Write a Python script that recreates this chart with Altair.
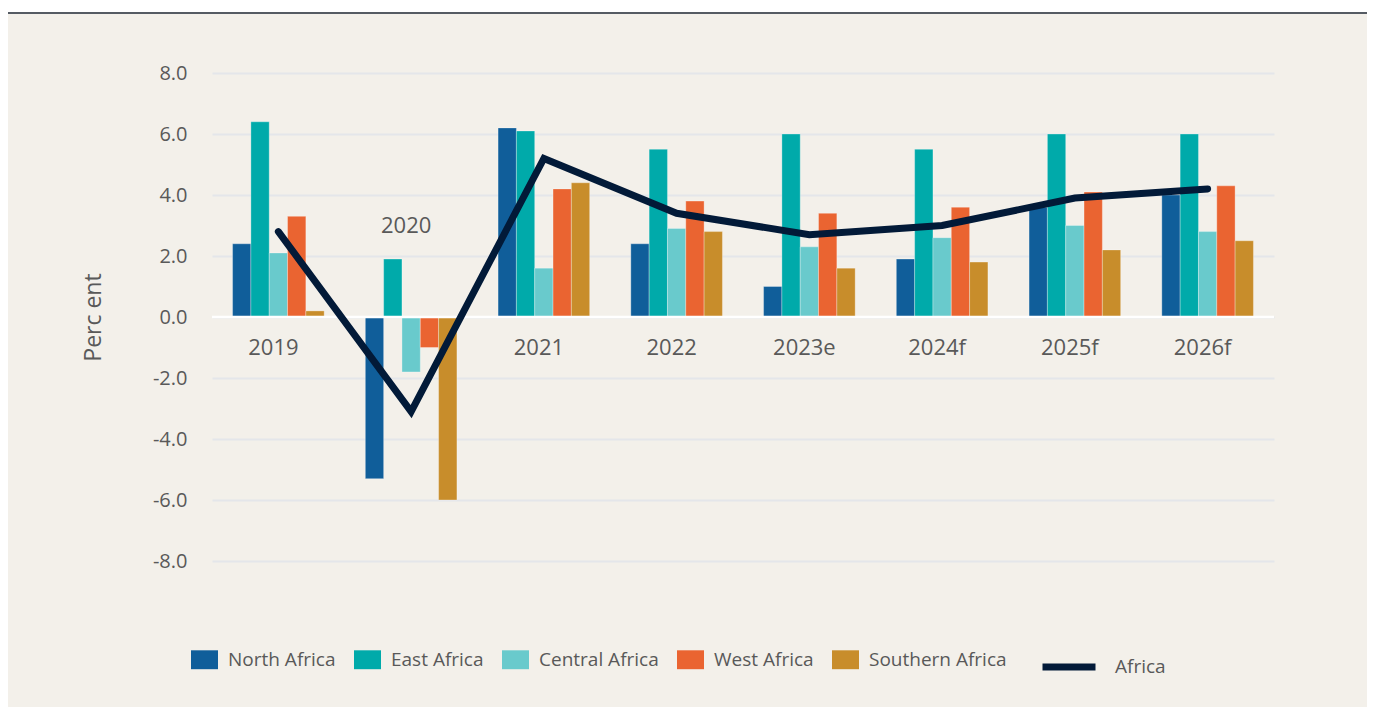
import altair as alt
import pandas as pd

years = ["2019", "2020", "2021", "2022", "2023e", "2024f", "2025f", "2026f"]
regions = ["North Africa", "East Africa", "Central Africa", "West Africa", "Southern Africa"]
north = [2.4, -5.3, 6.2, 2.4, 1.0, 1.9, 3.6, 4.0]
east = [6.4, 1.9, 6.1, 5.5, 6.0, 5.5, 6.0, 6.0]
central = [2.1, -1.8, 1.6, 2.9, 2.3, 2.6, 3.0, 2.8]
west = [3.3, -1.0, 4.2, 3.8, 3.4, 3.6, 4.1, 4.3]
southern = [0.2, -6.0, 4.4, 2.8, 1.6, 1.8, 2.2, 2.5]
africa = [2.8, -3.1, 5.2, 3.4, 2.7, 3.0, 3.9, 4.2]
colors = ["#105E9A", "#00AAAA", "#69CACC", "#EA6431", "#C88D2B"]
y_ticks = [-8, -6, -4, -2, 0, 2, 4, 6, 8]

series = [north, east, central, west, southern]
rows = []
for r, vals in zip(regions, series):
    for y, v in zip(years, vals):
        rows.append({"year": y, "region": r, "value": v})
bars_df = pd.DataFrame(rows)
line_df = pd.DataFrame({"year": years, "value": africa, "name": ["Africa"] * len(years)})
lab_df = pd.DataFrame({"year": years, "ly": [3.0 if y == "2020" else -1.0 for y in years]})

BG = "#F3F0EA"
GREY = "#595959"
FONT = "Open Sans"

xscale = alt.Scale(domain=years, paddingInner=0.31, paddingOuter=0.155)
yscale = alt.Scale(domain=[-8, 8], nice=False, zero=False)

yaxis = alt.Axis(
    values=y_ticks,
    labelExpr="replace(format(datum.value, '.1f'), '\u2212', '-')",
    labelFont=FONT, labelFontSize=20, labelColor=GREY, labelPadding=25,
    ticks=False, domain=False, grid=True, gridColor="#E4E6EA", gridWidth=2,
    title="Perc ent", titleFont=FONT, titleFontSize=23, titleFontWeight="normal",
    titleColor=GREY, titleX=-119, titleY=244, titleAngle=270, titleAlign="center",
    titleBaseline="middle",
)

bars = alt.Chart(bars_df).mark_bar(stroke="white", strokeWidth=0.6, strokeOpacity=0.5).encode(
    x=alt.X("year:N", scale=xscale, axis=None, sort=years),
    xOffset=alt.XOffset("region:N", sort=regions, scale=alt.Scale(paddingInner=0, paddingOuter=0)),
    y=alt.Y("value:Q", scale=yscale, axis=yaxis),
    color=alt.Color(
        "region:N",
        scale=alt.Scale(domain=regions, range=colors),
        sort=regions,
        legend=alt.Legend(
            title=None, orient="none", legendX=-21, legendY=573, direction="horizontal",
            columns=5, symbolType="M-1,-0.7H1V0.7H-1Z", symbolSize=729, symbolStrokeWidth=0,
            symbolOpacity=1, labelFont=FONT, labelFontSize=19, labelColor=GREY,
            labelOffset=10, columnPadding=18, padding=0, labelLimit=300,
        ),
    ),
)

zero = alt.Chart(pd.DataFrame({"z": [0]})).mark_rule(color="white", strokeWidth=2.5).encode(
    y=alt.Y("z:Q", scale=yscale)
)

line = alt.Chart(line_df).mark_line(strokeWidth=7, strokeCap="round", strokeJoin="miter").encode(
    x=alt.X("year:N", scale=xscale, sort=years),
    y=alt.Y("value:Q", scale=yscale),
    stroke=alt.Stroke(
        "name:N",
        scale=alt.Scale(domain=["Africa"], range=["#021A38"]),
        legend=alt.Legend(
            title=None, orient="none", legendX=827, legendY=564, symbolType="stroke",
            symbolSize=2809, symbolStrokeWidth=7, labelFont=FONT, labelFontSize=19,
            labelColor=GREY, labelOffset=16, padding=0,
        ),
    ),
)

labels = alt.Chart(lab_df).mark_text(
    font=FONT, fontSize=22, color=GREY, baseline="middle", align="center", dx=-5
).encode(
    x=alt.X("year:N", scale=xscale, sort=years),
    y=alt.Y("ly:Q", scale=yscale),
    text="year:N",
)

top_white = alt.Chart(pd.DataFrame({"a": [0]})).mark_rect(color="white").encode(
    x=alt.value(-205), x2=alt.value(1160), y=alt.value(-66), y2=alt.value(-61)
)
top_rule = alt.Chart(pd.DataFrame({"a": [0]})).mark_rule(color="#555B63", strokeWidth=2).encode(
    x=alt.value(-205), x2=alt.value(1160), y=alt.value(-60)
)

chart = alt.layer(bars, zero, line, labels, top_white, top_rule).resolve_legend(
    color="independent", stroke="independent"
).properties(
    width=1062, height=488,
    autosize=alt.AutoSizeParams(type="none"),
    padding={"left": 204, "top": 65, "right": 93, "bottom": 146},
    background=BG,
).configure_view(stroke=None)

chart.save("out.html", embed_options={"renderer": "svg", "actions": False})
